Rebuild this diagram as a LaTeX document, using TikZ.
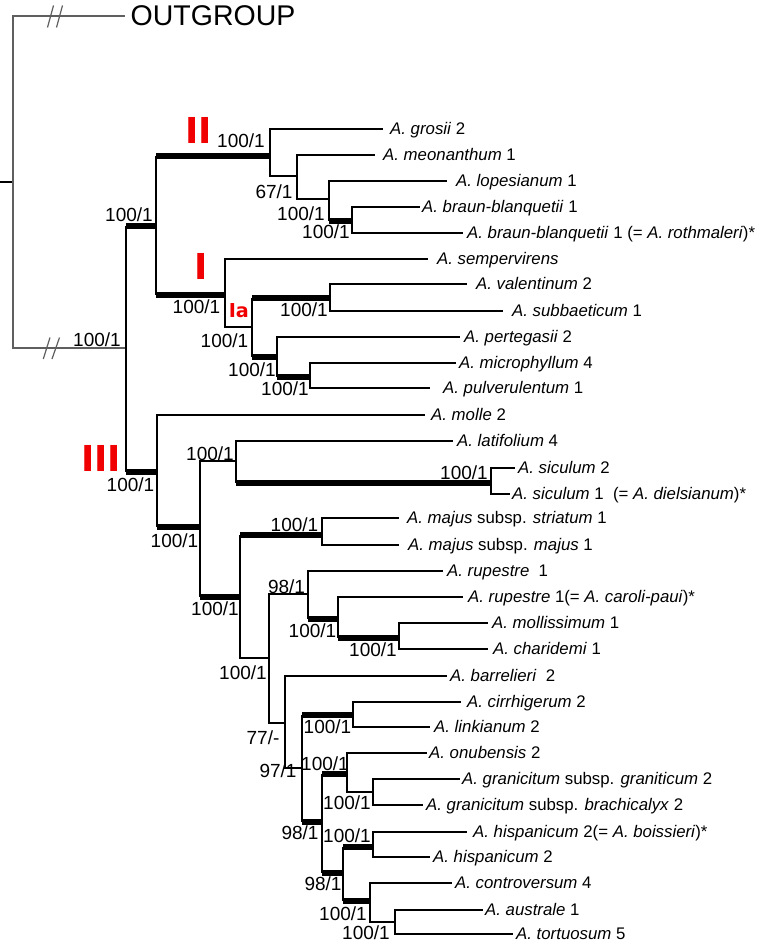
\documentclass[tikz,border=0pt]{standalone}
\usepackage{fontspec}
\setmainfont{Liberation Sans}
\newfontfamily\dvfont{DejaVu Sans}
\definecolor{grayline}{RGB}{95,95,95}
\definecolor{cladered}{RGB}{240,0,0}
\newcommand\thinedge[2]{\draw[br] (#1) |- (#2);}
\newcommand\thickedge[2]{\draw[br] (#1) -- (#1 |- #2); \draw[tb] (#1 |- #2) -- (#2);}
\begin{document}
\begin{tikzpicture}[x=1pt,y=-1pt,
  br/.style={line width=1.4pt,black},
  tb/.style={line width=5.5pt,black},
  gl/.style={line width=1.2pt,grayline},
  tip/.style={anchor=base west,inner sep=0pt,font=\fontsize{16.8}{19}\selectfont},
  bs/.style={anchor=base,inner sep=0pt,font=\fontsize{19}{21}\selectfont},
  clade/.style={anchor=base,inner sep=0pt,text=cladered,font=\dvfont\bfseries\fontsize{35.7}{38}\selectfont}]
\useasboundingbox (0,0) rectangle (763,947);
\fill[white] (0,0) rectangle (763,947);

% internal nodes
\coordinate (S) at (0,182);
\coordinate (R) at (13,182);
\coordinate (OG) at (125,16);
\coordinate (N0) at (126,348);
\coordinate (N1) at (156,226);
\coordinate (N2) at (270,156);
\coordinate (N3) at (297,176);
\coordinate (N4) at (329,199);
\coordinate (N5) at (352,221);
\coordinate (N6) at (225,295);
\coordinate (N7) at (252,327);
\coordinate (N8) at (330,298);
\coordinate (N9) at (277,357);
\coordinate (N10) at (310,377);
\coordinate (N11) at (157,472);
\coordinate (N12) at (200,527);
\coordinate (N13) at (236,461);
\coordinate (N14) at (491,483);
\coordinate (N15) at (240,597);
\coordinate (N16) at (322,535);
\coordinate (N17) at (269,658);
\coordinate (N18) at (308,594);
\coordinate (N19) at (338,619);
\coordinate (N20) at (399,638);
\coordinate (N21) at (285,723);
\coordinate (N22) at (302,768);
\coordinate (N23) at (353,715);
\coordinate (N24) at (322,822);
\coordinate (N25) at (347,774);
\coordinate (N26) at (373,792);
\coordinate (N27) at (343,873);
\coordinate (N28) at (373,847);
\coordinate (N29) at (370,901);
\coordinate (N30) at (395,922);

% tip ends
\coordinate (t1) at (383,129);
\coordinate (t2) at (375,155);
\coordinate (t3) at (447,181);
\coordinate (t4) at (420,207);
\coordinate (t5) at (463,233);
\coordinate (t6) at (428,259);
\coordinate (t7) at (467,284);
\coordinate (t8) at (503,311);
\coordinate (t9) at (460,337);
\coordinate (t10) at (456,363);
\coordinate (t11) at (430,388);
\coordinate (t12) at (425,415);
\coordinate (t13) at (453,441);
\coordinate (t14) at (515,468);
\coordinate (t15) at (510,494);
\coordinate (t16) at (399,518);
\coordinate (t17) at (399,545);
\coordinate (t18) at (443,571);
\coordinate (t19) at (463,597);
\coordinate (t20) at (488,623);
\coordinate (t21) at (488,649);
\coordinate (t22) at (447,676);
\coordinate (t23) at (461,702);
\coordinate (t24) at (430,727);
\coordinate (t25) at (427,753);
\coordinate (t26) at (460,779);
\coordinate (t27) at (423,805);
\coordinate (t28) at (467,832);
\coordinate (t29) at (430,857);
\coordinate (t30) at (452,883);
\coordinate (t31) at (483,910);
\coordinate (t32) at (513,934);

% root and outgroup
\draw[br] (S) -- (R);
\draw[gl] (R) |- (OG);
\draw[gl] (R) |- (N0);
\draw[gl] (47.5,27.5) -- (53.5,5.5);
\draw[gl] (56.5,27.5) -- (62.5,5.5);
\draw[gl] (43.3,359) -- (50,337.5);
\draw[gl] (52,359) -- (59.5,337.5);
\node[anchor=base west,inner sep=0pt,font=\fontsize{28.5}{30}\selectfont] (OGL) at (130.5,26) {OUTGROUP};

% branches
\thickedge{N0}{N1}
\thickedge{N0}{N11}
\thickedge{N1}{N2}
\thickedge{N1}{N6}
\thinedge{N2}{t1}
\thinedge{N2}{N3}
\thinedge{N3}{t2}
\thinedge{N3}{N4}
\thinedge{N4}{t3}
\thickedge{N4}{N5}
\thinedge{N5}{t4}
\thinedge{N5}{t5}
\thinedge{N6}{t6}
\thinedge{N6}{N7}
\thickedge{N7}{N8}
\thickedge{N7}{N9}
\thinedge{N8}{t7}
\thinedge{N8}{t8}
\thinedge{N9}{t9}
\thickedge{N9}{N10}
\thinedge{N10}{t10}
\thinedge{N10}{t11}
\thinedge{N11}{t12}
\thickedge{N11}{N12}
\thinedge{N12}{N13}
\thickedge{N12}{N15}
\thinedge{N13}{t13}
\thickedge{N13}{N14}
\thinedge{N14}{t14}
\thinedge{N14}{t15}
\thickedge{N15}{N16}
\thinedge{N15}{N17}
\thinedge{N16}{t16}
\thinedge{N16}{t17}
\thinedge{N17}{N18}
\thinedge{N17}{N21}
\thinedge{N18}{t18}
\thickedge{N18}{N19}
\thinedge{N19}{t19}
\thickedge{N19}{N20}
\thinedge{N20}{t20}
\thinedge{N20}{t21}
\thinedge{N21}{t22}
\thinedge{N21}{N22}
\thickedge{N22}{N23}
\thickedge{N22}{N24}
\thinedge{N23}{t23}
\thinedge{N23}{t24}
\thickedge{N24}{N25}
\thickedge{N24}{N27}
\thinedge{N25}{t25}
\thinedge{N25}{N26}
\thinedge{N26}{t26}
\thinedge{N26}{t27}
\thickedge{N27}{N28}
\thickedge{N27}{N29}
\thinedge{N28}{t28}
\thinedge{N28}{t29}
\thinedge{N29}{t30}
\thinedge{N29}{N30}
\thinedge{N30}{t31}
\thinedge{N30}{t32}

% tip labels
\node[tip] (l1) at (390,134.5) {\textit{A. grosii} 2};
\node[tip] (l2) at (383,160.5) {\textit{A. meonanthum} 1};
\node[tip] (l3) at (456,186.5) {\textit{A. lopesianum} 1};
\node[tip] (l4) at (422,212.5) {\textit{A. braun-blanquetii} 1};
\node[tip] (l5) at (467,238.5) {\textit{A. braun-blanquetii} 1 (= \textit{A. rothmaleri})*};
\node[tip] (l6) at (437,264.5) {\textit{A. sempervirens}};
\node[tip] (l7) at (476,289.5) {\textit{A. valentinum} 2};
\node[tip] (l8) at (512,316.5) {\textit{A. subbaeticum} 1};
\node[tip] (l9) at (464,342.5) {\textit{A. pertegasii} 2};
\node[tip] (l10) at (459,368.5) {\textit{A. microphyllum} 4};
\node[tip] (l11) at (443,393.5) {\textit{A. pulverulentum} 1};
\node[tip] (l12) at (431,420.5) {\textit{A. molle} 2};
\node[tip] (l13) at (457,446.5) {\textit{A. latifolium} 4};
\node[tip] (l14) at (518,473.5) {\textit{A. siculum} 2};
\node[tip] (l15) at (512,499.5) {\textit{A. siculum} 1\ \ (= \textit{A. dielsianum})*};
\node[tip] (l16) at (407,523.5) {\textit{A. majus} subsp. \textit{striatum} 1};
\node[tip] (l17) at (408,550.5) {\textit{A. majus} subsp. \textit{majus} 1};
\node[tip] (l18) at (447,576.5) {\textit{A. rupestre}\ \ 1};
\node[tip] (l19) at (468,602.5) {\textit{A. rupestre} 1(= \textit{A. caroli-paui})*};
\node[tip] (l20) at (492,628.5) {\textit{A. mollissimum} 1};
\node[tip] (l21) at (493,654.5) {\textit{A. charidemi} 1};
\node[tip] (l22) at (450,681.5) {\textit{A. barrelieri}\ \ 2};
\node[tip] (l23) at (467,707.5) {\textit{A. cirrhigerum} 2};
\node[tip] (l24) at (434,732.5) {\textit{A. linkianum} 2};
\node[tip] (l25) at (429,758.5) {\textit{A. onubensis} 2};
\node[tip] (l26) at (462,784.5) {\textit{A. granicitum} subsp. \textit{graniticum} 2};
\node[tip] (l27) at (426,810.5) {\textit{A. granicitum} subsp. \textit{brachicalyx} 2};
\node[tip] (l28) at (473,837.5) {\textit{A. hispanicum} 2(= \textit{A. boissieri})*};
\node[tip] (l29) at (433,862.5) {\textit{A. hispanicum} 2};
\node[tip] (l30) at (455,888.5) {\textit{A. controversum} 4};
\node[tip] (l31) at (485,915.5) {\textit{A. australe} 1};
\node[tip] (l32) at (516,939.5) {\textit{A. tortuosum} 5};

% support values
\node[bs] (s0) at (97,346.5) {100/1};
\node[bs] (s1) at (129,221) {100/1};
\node[bs] (s2) at (241,147) {100/1};
\node[bs] (s3) at (274,198) {67/1};
\node[bs] (s4) at (301,220) {100/1};
\node[bs] (s5) at (326,238) {100/1};
\node[bs] (s6) at (196.5,313) {100/1};
\node[bs] (s7) at (224.5,347) {100/1};
\node[bs] (s8) at (304,316) {100/1};
\node[bs] (s9) at (252,376) {100/1};
\node[bs] (s10) at (285,395) {100/1};
\node[bs] (s11) at (130.5,491) {100/1};
\node[bs] (s12) at (174.5,547) {100/1};
\node[bs] (s13) at (210,460.5) {100/1};
\node[bs] (s14) at (464,479) {100/1};
\node[bs] (s15) at (215,615) {100/1};
\node[bs] (s16) at (294.5,531) {100/1};
\node[bs] (s17) at (243,679) {100/1};
\node[bs] (s18) at (286.5,593) {98/1};
\node[bs] (s19) at (312.5,637) {100/1};
\node[bs] (s20) at (373,656) {100/1};
\node[bs] (s21) at (263,744) {77/-};
\node[bs] (s22) at (278,777) {97/1};
\node[bs] (s23) at (327.5,733) {100/1};
\node[bs] (s24) at (300,839.5) {98/1};
\node[bs] (s25) at (325,770) {100/1};
\node[bs] (s26) at (347,809) {100/1};
\node[bs] (s27) at (323,890) {98/1};
\node[bs] (s28) at (347,842) {100/1};
\node[bs] (s29) at (343,920) {100/1};
\node[bs] (s30) at (366,939) {100/1};

% clade labels
\node[clade] (cII) at (198.5,143) {II};
\node[clade] (cI) at (201,279) {I};
\node[clade] (cIII) at (101,471) {III};
\node[clade,font=\dvfont\bfseries\fontsize{19.2}{21}\selectfont] (cIa) at (238.8,317) {Ia};
\end{tikzpicture}
\end{document}
